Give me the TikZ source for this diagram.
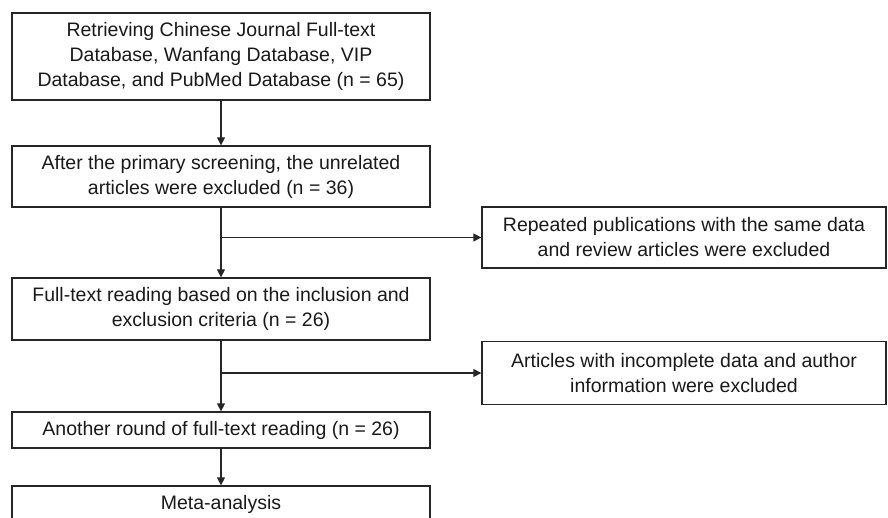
\documentclass[tikz,border=0pt]{standalone}
\usepackage{fontspec}
\setmainfont{Liberation Sans}
\usetikzlibrary{arrows.meta}
\begin{document}
\begin{tikzpicture}[x=1pt,y=-1pt,
  box/.style={draw=black!85,line width=1.3pt,align=center,inner sep=0pt,
    font=\fontsize{19.5}{25}\selectfont,text=black!90},
  lbox/.style={box,minimum width=418pt},
  rbox/.style={box,minimum width=404pt},
  conn/.style={draw=black!85,line width=1.3pt},
  arr/.style={conn,-{Triangle[length=8pt,width=8pt]}}]
\useasboundingbox (0,0) rectangle (888,518);
\clip (0,0) rectangle (888,518);
\node[lbox,minimum height=87pt] (b1) at (221,56.5) {Retrieving Chinese Journal Full-text\\Database, Wanfang Database, VIP\\Database, and PubMed Database (n = 65)};
\node[lbox,minimum height=61pt] (b2) at (221,176.5) {After the primary screening, the unrelated\\articles were excluded (n = 36)};
\node[lbox,minimum height=62pt] (b3) at (221,309) {Full-text reading based on the inclusion and\\exclusion criteria (n = 26)};
\node[lbox,minimum height=36pt] (b4) at (221,430) {Another round of full-text reading (n = 26)};
\node[lbox,minimum height=36pt] (b5) at (221,504) {Meta-analysis};
\node[rbox,minimum height=61pt] (r1) at (684,237.5) {Repeated publications with the same data\\and review articles were excluded};
\node[rbox,minimum height=63pt] (r2) at (684,373) {Articles with incomplete data and author\\information were excluded};
\coordinate (j1) at (222,237.5);
\coordinate (j2) at (222,373);
\draw[arr] (b1.south) -- (b2.north);
\draw[arr] (b2.south) -- (b3.north);
\draw[arr] (j1) -- (r1.west);
\draw[arr] (b3.south) -- (b4.north);
\draw[arr] (j2) -- (r2.west);
\draw[arr] (b4.south) -- (b5.north);
\end{tikzpicture}
\end{document}
